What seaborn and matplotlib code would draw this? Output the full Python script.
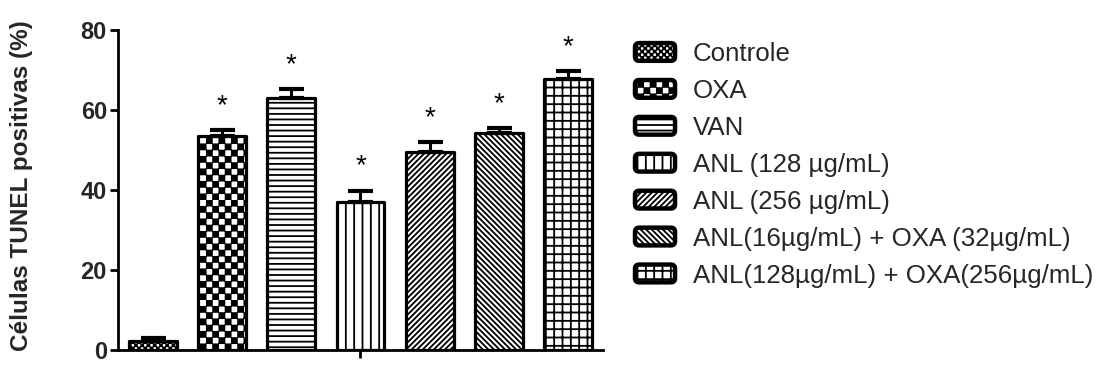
import numpy as np
import pandas as pd
import matplotlib
matplotlib.use("Agg")
import matplotlib.pyplot as plt
import matplotlib.patches as mpatches
from matplotlib import hatch as mhatch
from matplotlib.path import Path
from matplotlib.legend_handler import HandlerPatch
import seaborn as sns

# ---- data -------------------------------------------------------------
groups = [
    "Controle",
    "OXA",
    "VAN",
    "ANL (128 µg/mL)",
    "ANL (256 µg/mL)",
    "ANL(16µg/mL) + OXA (32µg/mL)",
    "ANL(128µg/mL) + OXA(256µg/mL)",
]
tunel_mean = [2.3, 53.5, 63.0, 37.0, 49.5, 54.3, 67.7]
tunel_sem = [0.8, 1.5, 2.2, 2.8, 2.5, 1.2, 2.0]
significant = [False, True, True, True, True, True, True]
yticks = [0, 20, 40, 60, 80]


# ---- checkerboard hatch ('o' = fine squares, 'O' = coarse squares) -----
class CheckerHatch(mhatch.HatchPatternBase):
    def __init__(self, hatch, density):
        self.cells = 32 * hatch.count("o") + 16 * hatch.count("O")
        self.num_vertices = (self.cells * self.cells // 2) * 5

    def set_vertices_and_codes(self, vertices, codes):
        n = self.cells
        step = 1.0 / n
        inset = 0.006
        k = 0
        for i in range(n):
            for j in range(n):
                if (i + j) % 2:
                    continue
                x0, y0 = i * step + inset, j * step + inset
                x1, y1 = (i + 1) * step - inset, (j + 1) * step - inset
                vertices[k:k + 5] = [[x0, y0], [x1, y0], [x1, y1], [x0, y1], [x0, y0]]
                codes[k] = Path.MOVETO
                codes[k + 1:k + 4] = Path.LINETO
                codes[k + 4] = Path.CLOSEPOLY
                k += 5


mhatch._hatch_types = [
    t for t in mhatch._hatch_types
    if t not in (mhatch.SmallCircles, mhatch.LargeCircles)
] + [CheckerHatch]

hatches = ["o", "O", "---", "||", "//////", "\\\\\\\\\\\\", "++"]


class RoundedSwatch(HandlerPatch):
    def create_artists(self, legend, orig_handle, xdescent, ydescent,
                       width, height, fontsize, trans):
        box = mpatches.FancyBboxPatch(
            (-xdescent, -ydescent), width, height,
            boxstyle="round,pad=0,rounding_size=3", mutation_scale=1)
        self.update_prop(box, orig_handle, legend)
        box.set_transform(trans)
        return [box]


# ---- style ------------------------------------------------------------
sns.set_style("ticks")
plt.rcParams["font.family"] = ["Liberation Sans", "DejaVu Sans"]
plt.rcParams["hatch.linewidth"] = 1.3
plt.rcParams["hatch.color"] = "black"

df = pd.DataFrame({"group": groups, "value": tunel_mean})

fig = plt.figure(figsize=(10.98, 3.67), dpi=100)
ax = fig.add_axes([118 / 1098, 17 / 367, 485 / 1098, 320 / 367])

sns.barplot(data=df, x="group", y="value", hue="group",
            palette=["white"] * len(groups), edgecolor="black",
            linewidth=2.3, width=0.69, legend=False, ax=ax, zorder=2)

centers = []
for patch, h in zip(ax.patches, hatches):
    patch.set_hatch(h)
    patch.set_joinstyle("round")
    centers.append(patch.get_x() + patch.get_width() / 2)

ax.errorbar(centers, tunel_mean,
            yerr=[np.zeros(len(tunel_sem)), tunel_sem],
            fmt="none", ecolor="black", elinewidth=2.2,
            capsize=9, capthick=3.0, zorder=3)

for xc, m, s, sig in zip(centers, tunel_mean, tunel_sem, significant):
    if sig:
        ax.text(xc, m + s + 4.3, "*", ha="center", va="baseline",
                fontsize=20, color="black")

ax.set_ylim(0, 80)
ax.set_xlim(-0.5, len(groups) - 0.5)
ax.set_yticks(yticks)
ax.set_yticklabels([str(v) for v in yticks], fontsize=17, fontweight="bold")
ax.set_xticks([(len(groups) - 1) / 2])
ax.set_xticklabels([""])
ax.set_xlabel("")
ax.set_ylabel("Células TUNEL positivas (%)", fontsize=17.5, fontweight="bold")
ax.yaxis.set_label_coords(-0.175, 0.515)
ax.tick_params(axis="both", length=6, width=2.0, color="black", pad=2)
for side in ("top", "right"):
    ax.spines[side].set_visible(False)
for side in ("left", "bottom"):
    ax.spines[side].set_linewidth(2.0)
    ax.spines[side].set_color("black")

handles = [
    mpatches.Patch(facecolor="white", edgecolor="black", hatch=h, linewidth=3.2)
    for h in hatches
]
fig.legend(handles, groups, loc="upper left",
           bbox_to_anchor=(635 / 1098, 1 - 42 / 367),
           frameon=False, fontsize=18.6, borderpad=0, borderaxespad=0,
           handlelength=1.55, handleheight=0.68, handletextpad=0.68,
           labelspacing=0.5,
           handler_map={mpatches.Patch: RoundedSwatch()})

fig.savefig("out.png", dpi=100)
